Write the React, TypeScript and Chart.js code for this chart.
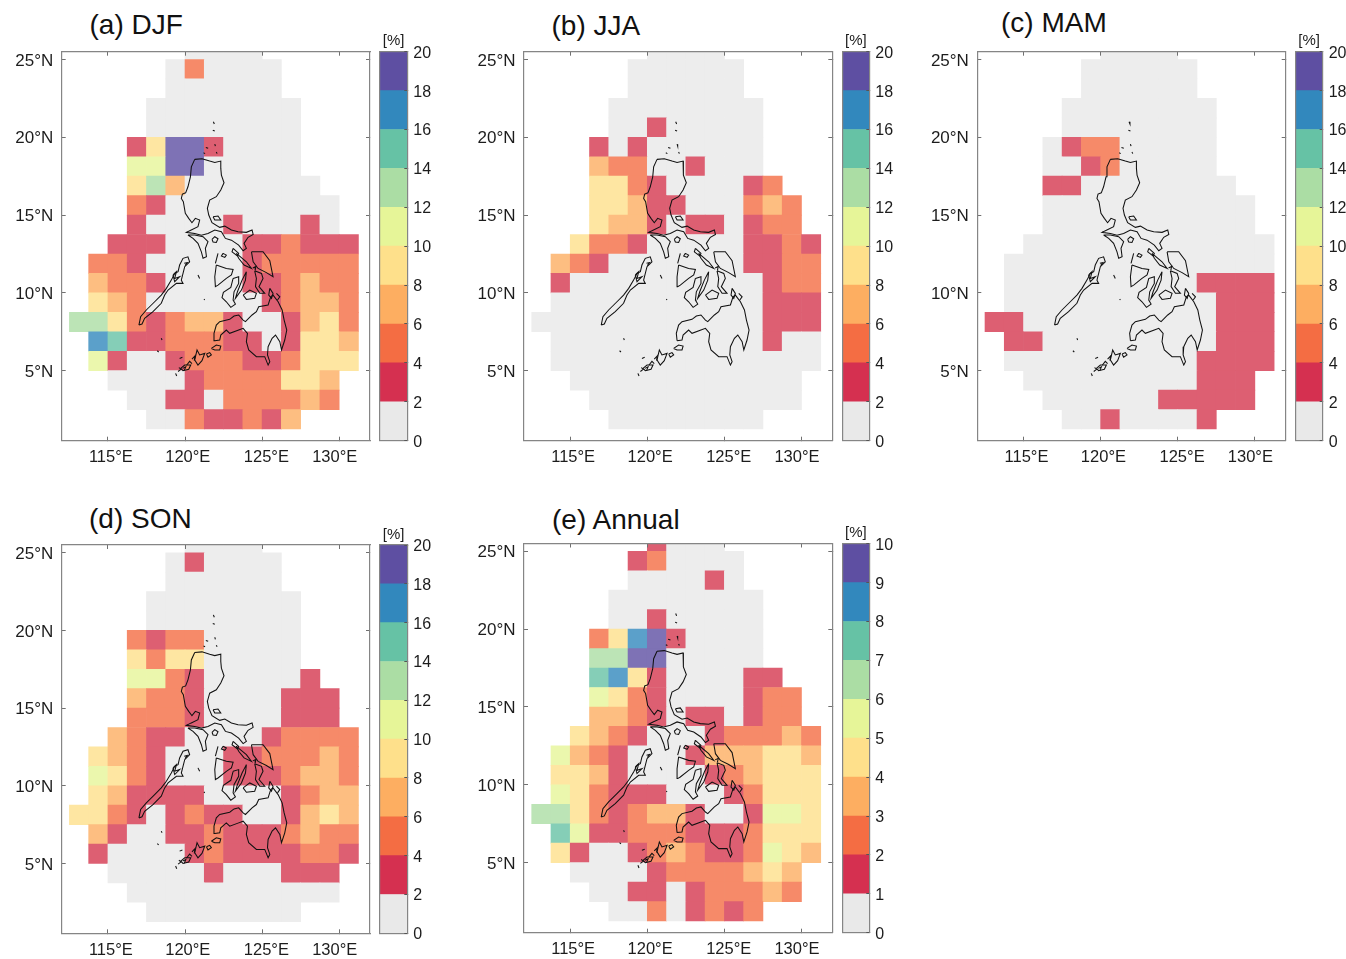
import React, { useEffect, useRef } from "react";
import { Chart, registerables } from "chart.js";

Chart.register(...registerables);

const _ = null;
const FONT = "'Liberation Sans', Arial, sans-serif";

// lower-left edges of the 1.25 degree grid
const LON_EDGES = [112.5, 113.75, 115, 116.25, 117.5, 118.75, 120, 121.25, 122.5, 123.75, 125, 126.25, 127.5, 128.75, 130];
const LAT_EDGES = [25, 23.75, 22.5, 21.25, 20, 18.75, 17.5, 16.25, 15, 13.75, 12.5, 11.25, 10, 8.75, 7.5, 6.25, 5, 3.75, 2.5, 1.25];
const CELL_SIZE = 1.25;

const LON_TICKS = [115, 120, 125, 130];
const LON_LABEL_POS = [115.19, 120.18, 125.28, 129.71];
const LAT_TICKS = [5, 10, 15, 20, 25];

const BAR_COLORS = ["#e9e9e9", "#d53050", "#f46d43", "#fdae61", "#fee08b", "#e6f598", "#abdda4", "#66c2a5", "#3288bd", "#5e4fa2"];
const CELL_COLORS = ["#ededed", "#dd5f72", "#f68a69", "#fdbe81", "#fee6a2", "#ebf7ad", "#bce4b6", "#85ceb7", "#5ba0ca", "#7e72b5"];

const DJF = [
  [_, _, _, _, _, _, 1, 1, 1, 1, _, _, _, _, _],
  [_, _, _, _, _, 1, 5, 1, 1, 1, 1, _, _, _, _],
  [_, _, _, _, _, 1, 1, 1, 1, 1, 1, _, _, _, _],
  [_, _, _, _, 1, 1, 1, 1, 1, 1, 1, 1, _, _, _],
  [_, _, _, _, 1, 1, 1, 1, 1, 1, 1, 1, _, _, _],
  [_, _, _, 3, 9, 19, 19, 3, 1, 1, 1, 1, _, _, _],
  [_, _, _, 11, 11, 19, 19, 1, 1, 1, 1, 1, _, _, _],
  [_, _, _, 9, 13, 7, 1, 1, 1, 1, 1, 1, 1, _, _],
  [_, _, _, 5, 3, 1, 1, 1, 1, 1, 1, 1, 1, 1, _],
  [_, _, _, 3, 1, 1, 1, 1, 3, 1, 1, 1, 3, 1, _],
  [_, _, 3, 3, 3, 1, 1, 1, 1, 3, 3, 5, 3, 3, 3],
  [_, 5, 5, 3, 1, 1, 1, 1, 1, 3, 5, 5, 5, 5, 5],
  [_, 7, 5, 5, 3, 1, 1, 1, 1, 3, 3, 5, 7, 5, 5],
  [_, 9, 7, 5, 1, 1, 1, 1, 1, 1, 3, 5, 7, 7, 5],
  [13, 13, 9, 5, 3, 5, 7, 7, 3, 1, 1, 3, 7, 9, 5],
  [_, 17, 15, 3, 3, 5, 5, 5, 3, 3, 1, 3, 9, 9, 7],
  [_, 11, 3, 1, 1, 3, 5, 5, 5, 3, 3, 5, 9, 9, 9],
  [_, _, 1, 1, 1, 1, 3, 5, 5, 5, 5, 9, 9, 7, _],
  [_, _, _, 1, 1, 3, 3, 1, 5, 5, 5, 5, 7, 5, _],
  [_, _, _, _, 1, 1, 5, 3, 3, 5, 3, 7, _, _, _],
];

const JJA = [
  [_, _, _, _, _, _, 1, 1, 1, 1, _, _, _, _, _],
  [_, _, _, _, _, 1, 1, 1, 1, 1, 1, _, _, _, _],
  [_, _, _, _, _, 1, 1, 1, 1, 1, 1, _, _, _, _],
  [_, _, _, _, 1, 1, 1, 1, 1, 1, 1, 1, _, _, _],
  [_, _, _, _, 1, 1, 3, 1, 1, 1, 1, 1, _, _, _],
  [_, _, _, 3, 1, 3, 1, 1, 1, 1, 1, 1, _, _, _],
  [_, _, _, 7, 5, 5, 1, 1, 3, 1, 1, 1, _, _, _],
  [_, _, _, 9, 9, 5, 3, 1, 1, 1, 1, 3, 5, _, _],
  [_, _, _, 9, 9, 7, 3, 3, 1, 1, 1, 5, 7, 5, _],
  [_, _, _, 9, 7, 7, 3, 1, 3, 3, 1, 3, 5, 5, _],
  [_, _, 9, 5, 5, 3, 1, 1, 1, 1, 1, 3, 3, 5, 3],
  [_, 7, 5, 3, 1, 1, 1, 1, 1, 1, 1, 3, 3, 5, 5],
  [_, 3, 1, 1, 1, 1, 1, 1, 1, 1, 1, 1, 3, 5, 5],
  [_, 1, 1, 1, 1, 1, 1, 1, 1, 1, 1, 1, 3, 3, 3],
  [1, 1, 1, 1, 1, 1, 1, 1, 1, 1, 1, 1, 3, 3, 3],
  [_, 1, 1, 1, 1, 1, 1, 1, 1, 1, 1, 1, 3, 1, 1],
  [_, 1, 1, 1, 1, 1, 1, 1, 1, 1, 1, 1, 1, 1, 1],
  [_, _, 1, 1, 1, 1, 1, 1, 1, 1, 1, 1, 1, 1, _],
  [_, _, _, 1, 1, 1, 1, 1, 1, 1, 1, 1, 1, 1, _],
  [_, _, _, _, 1, 1, 1, 1, 1, 1, 1, 1, _, _, _],
];

const MAM = [
  [_, _, _, _, _, _, 1, 1, 1, 1, _, _, _, _, _],
  [_, _, _, _, _, 1, 1, 1, 1, 1, 1, _, _, _, _],
  [_, _, _, _, _, 1, 1, 1, 1, 1, 1, _, _, _, _],
  [_, _, _, _, 1, 1, 1, 1, 1, 1, 1, 1, _, _, _],
  [_, _, _, _, 1, 1, 1, 1, 1, 1, 1, 1, _, _, _],
  [_, _, _, 1, 3, 5, 5, 1, 1, 1, 1, 1, _, _, _],
  [_, _, _, 1, 1, 3, 5, 1, 1, 1, 1, 1, _, _, _],
  [_, _, _, 3, 3, 1, 1, 1, 1, 1, 1, 1, 1, _, _],
  [_, _, _, 1, 1, 1, 1, 1, 1, 1, 1, 1, 1, 1, _],
  [_, _, _, 1, 1, 1, 1, 1, 1, 1, 1, 1, 1, 1, _],
  [_, _, 1, 1, 1, 1, 1, 1, 1, 1, 1, 1, 1, 1, 1],
  [_, 1, 1, 1, 1, 1, 1, 1, 1, 1, 1, 1, 1, 1, 1],
  [_, 1, 1, 1, 1, 1, 1, 1, 1, 1, 1, 3, 3, 3, 3],
  [_, 1, 1, 1, 1, 1, 1, 1, 1, 1, 1, 1, 3, 3, 3],
  [3, 3, 1, 1, 1, 1, 1, 1, 1, 1, 1, 1, 3, 3, 3],
  [_, 3, 3, 1, 1, 1, 1, 1, 1, 1, 1, 1, 3, 3, 3],
  [_, 1, 1, 1, 1, 1, 1, 1, 1, 1, 1, 3, 3, 3, 3],
  [_, _, 1, 1, 1, 1, 1, 1, 1, 1, 1, 3, 3, 3, _],
  [_, _, _, 1, 1, 1, 1, 1, 1, 3, 3, 3, 3, 3, _],
  [_, _, _, _, 1, 1, 3, 1, 1, 1, 1, 3, _, _, _],
];

const SON = [
  [_, _, _, _, _, _, 1, 1, 1, 1, _, _, _, _, _],
  [_, _, _, _, _, 1, 3, 1, 1, 1, 1, _, _, _, _],
  [_, _, _, _, _, 1, 1, 1, 1, 1, 1, _, _, _, _],
  [_, _, _, _, 1, 1, 1, 1, 1, 1, 1, 1, _, _, _],
  [_, _, _, _, 1, 1, 1, 1, 1, 1, 1, 1, _, _, _],
  [_, _, _, 5, 3, 5, 5, 1, 1, 1, 1, 1, _, _, _],
  [_, _, _, 9, 5, 9, 9, 1, 1, 1, 1, 1, _, _, _],
  [_, _, _, 11, 11, 5, 3, 1, 1, 1, 1, 1, 3, _, _],
  [_, _, _, 7, 5, 5, 3, 1, 1, 1, 1, 3, 3, 3, _],
  [_, _, _, 5, 5, 5, 3, 1, 1, 1, 1, 3, 3, 3, _],
  [_, _, 7, 5, 3, 3, 1, 1, 1, 1, 3, 5, 5, 5, 5],
  [_, 9, 7, 5, 3, 1, 1, 1, 3, 3, 5, 5, 5, 7, 5],
  [_, 11, 9, 5, 3, 1, 1, 1, 3, 3, 3, 5, 7, 7, 5],
  [_, 9, 7, 3, 3, 3, 3, 1, 1, 1, 1, 3, 5, 7, 7],
  [9, 9, 5, 3, 1, 3, 5, 3, 3, 1, 1, 3, 7, 9, 7],
  [_, 7, 3, 1, 1, 3, 3, 5, 3, 3, 3, 5, 7, 5, 5],
  [_, 3, 1, 1, 1, 1, 3, 5, 3, 3, 3, 3, 5, 5, 3],
  [_, _, 1, 1, 1, 1, 1, 3, 1, 1, 1, 3, 3, 3, _],
  [_, _, _, 1, 1, 1, 1, 1, 1, 1, 1, 1, 1, 1, _],
  [_, _, _, _, 1, 1, 1, 1, 1, 1, 1, 1, _, _, _],
];

const ANNUAL = [
  [_, _, _, _, _, _, 1.5, 0.5, 0.5, 0.5, _, _, _, _, _],
  [_, _, _, _, _, 1.5, 2.5, 0.5, 0.5, 0.5, 0.5, _, _, _, _],
  [_, _, _, _, _, 0.5, 0.5, 0.5, 0.5, 1.5, 0.5, _, _, _, _],
  [_, _, _, _, 0.5, 0.5, 0.5, 0.5, 0.5, 0.5, 0.5, 0.5, _, _, _],
  [_, _, _, _, 0.5, 0.5, 1.5, 0.5, 0.5, 0.5, 0.5, 0.5, _, _, _],
  [_, _, _, 2.5, 4.5, 8.5, 9.5, 1.5, 0.5, 0.5, 0.5, 0.5, _, _, _],
  [_, _, _, 6.5, 6.5, 9.5, 9.5, 0.5, 0.5, 0.5, 0.5, 0.5, _, _, _],
  [_, _, _, 7.5, 8.5, 4.5, 1.5, 0.5, 0.5, 0.5, 0.5, 1.5, 1.5, _, _],
  [_, _, _, 5.5, 4.5, 2.5, 1.5, 0.5, 0.5, 0.5, 0.5, 1.5, 2.5, 2.5, _],
  [_, _, _, 3.5, 3.5, 2.5, 1.5, 0.5, 1.5, 1.5, 0.5, 1.5, 2.5, 2.5, _],
  [_, _, 4.5, 3.5, 2.5, 1.5, 0.5, 0.5, 0.5, 1.5, 2.5, 2.5, 2.5, 3.5, 2.5],
  [_, 5.5, 3.5, 2.5, 1.5, 0.5, 0.5, 0.5, 1.5, 3.5, 3.5, 3.5, 4.5, 4.5, 3.5],
  [_, 4.5, 4.5, 3.5, 1.5, 0.5, 0.5, 0.5, 0.5, 1.5, 2.5, 3.5, 4.5, 4.5, 4.5],
  [_, 5.5, 4.5, 2.5, 1.5, 1.5, 1.5, 0.5, 0.5, 0.5, 1.5, 2.5, 4.5, 4.5, 4.5],
  [6.5, 6.5, 4.5, 2.5, 1.5, 2.5, 3.5, 3.5, 1.5, 0.5, 0.5, 1.5, 5.5, 5.5, 4.5],
  [_, 7.5, 5.5, 1.5, 1.5, 2.5, 2.5, 2.5, 1.5, 1.5, 1.5, 2.5, 4.5, 4.5, 4.5],
  [_, 4.5, 1.5, 0.5, 0.5, 1.5, 2.5, 3.5, 2.5, 1.5, 1.5, 2.5, 5.5, 4.5, 3.5],
  [_, _, 0.5, 0.5, 0.5, 0.5, 1.5, 2.5, 2.5, 2.5, 2.5, 3.5, 4.5, 3.5, _],
  [_, _, _, 0.5, 0.5, 1.5, 1.5, 0.5, 1.5, 2.5, 2.5, 2.5, 3.5, 2.5, _],
  [_, _, _, _, 0.5, 0.5, 2.5, 0.5, 1.5, 2.5, 1.5, 2.5, _, _, _],
];

// Coastlines as [lon, lat] pairs
const LUZON = [[120.63,18.58],[121.10,18.62],[121.60,18.47],[121.93,18.38],[122.32,18.47],[122.32,18.00],[122.36,17.57],[122.53,17.08],[122.32,16.61],[122.03,16.18],[121.60,15.96],[121.45,15.43],[121.54,15.00],[121.75,14.51],[122.25,14.21],[122.58,14.29],[123.01,14.04],[123.44,13.93],[123.98,13.89],[124.35,14.04],[124.42,13.76],[124.09,13.57],[123.83,13.18],[123.98,12.86],[123.77,12.71],[123.48,13.07],[123.01,13.39],[122.62,13.50],[122.36,13.93],[121.93,14.04],[121.49,13.82],[121.06,13.71],[120.63,13.82],[120.09,13.89],[120.37,14.03],[120.84,14.25],[120.95,14.68],[120.67,14.79],[120.45,14.51],[120.24,14.79],[120.02,15.11],[119.89,15.86],[119.76,16.07],[119.83,16.35],[120.04,16.43],[120.19,16.82],[120.35,17.46],[120.41,18.10]];
const MINDANAO = [[121.93,6.93],[121.88,7.40],[122.03,7.93],[122.25,8.15],[122.90,8.30],[123.18,8.51],[123.48,8.58],[123.77,8.25],[123.92,8.15],[124.35,8.58],[124.63,8.79],[124.78,9.11],[125.39,9.22],[125.56,9.75],[125.71,9.86],[126.04,9.43],[126.30,8.90],[126.43,8.25],[126.60,7.61],[126.47,6.97],[126.26,6.33],[126.15,6.86],[125.87,7.29],[125.65,7.08],[125.39,6.54],[125.35,6.01],[125.50,5.58],[125.39,5.36],[125.17,5.90],[124.63,5.90],[124.13,6.33],[123.98,6.86],[124.05,7.40],[123.77,7.72],[123.48,7.61],[122.90,7.40],[122.68,7.61],[122.32,7.29],[122.25,6.97]];
const PALAWAN = [[117.01,7.93],[117.12,8.47],[117.49,8.90],[118.03,9.43],[118.46,9.86],[118.79,10.29],[119.11,10.82],[119.33,11.25],[119.55,11.36],[119.65,11.79],[119.87,12.22],[120.19,12.32],[120.30,12.00],[119.98,11.68],[119.87,11.25],[119.76,10.82],[119.87,10.61],[119.44,10.61],[118.90,10.18],[118.68,9.86],[118.46,9.33],[117.92,8.79],[117.38,8.36],[117.21,8.00]];
const MINDORO = [[120.19,13.72],[120.52,13.50],[120.84,13.18],[121.06,12.64],[121.17,12.22],[121.39,12.32],[121.32,12.86],[121.49,13.29],[121.17,13.61],[120.63,13.72]];
const MARINDUQUE = [[121.75,13.44],[121.93,13.61],[122.14,13.48],[122.03,13.24],[121.82,13.27]];
const PANAY = [[122.03,11.79],[122.68,11.57],[123.12,11.51],[123.01,11.15],[122.68,10.93],[122.14,10.50],[121.97,10.40],[121.93,11.04]];
const TABLAS = [[122.14,12.54],[121.97,11.90]];
const SIBUYAN = [[122.47,12.54],[122.68,12.43],[122.58,12.28],[122.36,12.37]];
const NEGROS = [[123.12,10.93],[123.48,11.04],[123.48,10.61],[123.18,10.07],[123.12,9.54],[123.27,9.28],[122.97,9.07],[122.68,9.43],[122.40,9.69],[122.49,10.03],[122.97,10.35]];
const CEBU = [[123.98,11.36],[123.92,10.82],[123.66,10.18],[123.27,9.65],[123.40,10.07],[123.70,10.82]];
const BOHOL = [[123.77,9.86],[124.20,10.18],[124.63,9.97],[124.52,9.65],[123.98,9.58]];
const SAMAR = [[124.31,12.64],[125.06,12.64],[125.50,12.07],[125.71,11.04],[125.28,11.30],[124.74,11.57],[124.42,12.00]];
const LEYTE = [[124.52,11.42],[124.96,11.25],[125.06,10.93],[124.80,10.40],[125.17,9.97],[124.85,9.97],[124.57,10.40],[124.63,10.93]];
const MASBATE = [[123.33,12.54],[123.98,12.00],[124.31,11.57],[123.83,11.79],[123.48,12.22]];
const BURIAS = [[123.12,12.86],[123.48,12.54],[123.40,12.37],[123.05,12.64]];
const POLILLO = [[121.82,14.89],[122.14,14.94],[122.32,14.68],[121.93,14.68]];
const DINAGAT = [[125.50,10.29],[125.71,9.97],[125.61,9.65],[125.43,9.86]];
const SIARGAO = [[125.93,9.97],[126.15,9.75],[126.00,9.54]];
const EL_NIDO = [[119.22,11.15],[119.44,11.36],[119.33,10.93],[119.65,11.04],[119.33,10.72]];
const BASILAN = [[121.71,6.43],[122.03,6.65],[122.32,6.58],[122.25,6.33],[121.93,6.33]];
const JOLO = [[121.39,6.07],[121.60,6.16],[121.71,6.01],[121.49,5.86]];
const SULU_CHAIN = [[120.63,5.69],[120.78,6.33],[120.95,6.01],[121.28,6.11],[121.10,5.64],[120.84,5.36]];
const TAWI_TAWI = [[119.72,5.15],[119.98,5.36],[120.37,5.36],[120.24,5.09],[119.87,5.00]];
const SMALL_ISLETS = [
  [[119.39,4.83],[119.46,4.66]], [[119.65,5.79],[119.83,5.86]],
  [[118.46,7.08],[118.51,6.97]], [[118.20,6.28],[118.29,6.20]],
  [[120.84,11.15],[120.95,10.93]], [[121.23,9.60],[121.28,9.54]],
  [[121.84,21.00],[121.90,20.85]], [[121.80,20.45],[121.93,20.40]],
  [[121.35,19.35],[121.50,19.30]], [[121.93,19.56],[121.97,19.43]],
  [[122.03,19.05],[122.08,18.95]], [[121.20,19.00],[121.30,18.95]],
  [[119.95,11.90],[120.15,11.95],[120.00,11.75]],
  [[124.40,11.60],[124.60,11.70],[124.55,11.45]],
  [[120.10,5.35],[120.30,5.60],[120.45,5.45]],
  [[120.45,5.75],[120.65,5.95],[120.60,5.65]],
  [[119.55,4.95],[119.75,5.10],[119.60,5.20]],
  [[119.85,5.15],[120.05,5.25],[119.95,5.00]],
];
const COAST = [LUZON, MINDANAO, PALAWAN, MINDORO, MARINDUQUE, PANAY, TABLAS, SIBUYAN, NEGROS, CEBU, BOHOL, SAMAR, LEYTE, MASBATE, BURIAS, POLILLO, DINAGAT, SIARGAO, EL_NIDO, BASILAN, JOLO, SULU_CHAIN, TAWI_TAWI, ...SMALL_ISLETS];

const BAR_TICKS_20 = [0, 2, 4, 6, 8, 10, 12, 14, 16, 18, 20];
const BAR_TICKS_10 = [0, 1, 2, 3, 4, 5, 6, 7, 8, 9, 10];

const FRAME = "#858585";
const TICK = "#707070";
const INK = "#1c1c1c";
const cellColor = (v: number, max: number) => CELL_COLORS[Math.min(9, Math.floor(v / (max / 10)))];

function fixedSize(prop: "width" | "height", size: number) {
  return (axis: any) => {
    axis[prop] = size;
  };
}

function setTicks(values: number[]) {
  return (axis: any) => {
    axis.ticks = values.map((value) => ({ value }));
  };
}

function MapChart({ left, top, right, bottom, grid, max }: any) {
  const ref = useRef<HTMLCanvasElement>(null);
  const canvasLeft = Math.floor(left) - 56;
  const canvasTop = Math.floor(top) - 24;
  const canvasRight = Math.ceil(right) + 6;
  const canvasBottom = Math.ceil(bottom) + 32;
  useEffect(() => {
    const cells: any[] = [];
    const colors: string[] = [];
    grid.forEach((row: (number | null)[], r: number) => {
      row.forEach((v, c) => {
        if (v === null) return;
        cells.push({ x: LON_EDGES[c] + CELL_SIZE / 2, y: [LAT_EDGES[r], LAT_EDGES[r] + CELL_SIZE] });
        colors.push(cellColor(v, max));
      });
    });
    const hidden = { display: false };
    const gridOpts = { drawOnChartArea: false, tickLength: -4, tickColor: TICK, tickWidth: 1, z: 1 };
    const border = { display: true, color: FRAME, width: 1.2, z: 1 };
    const chart = new Chart(ref.current!, {
      type: "bar",
      data: {
        datasets: [
          { type: "bar", data: cells, backgroundColor: colors, barPercentage: 1, categoryPercentage: 1, borderWidth: 0, order: 2 },
          ...COAST.map((pts) => {
            const line = pts.map(([x, y]) => ({ x, y }));
            if (pts.length > 3) line.push({ x: pts[0][0], y: pts[0][1] });
            return { type: "scatter", data: line, showLine: true, pointRadius: 0, borderColor: "#111", borderWidth: 1.05, fill: false, tension: 0, order: 1 };
          }),
        ] as any,
      },
      options: {
        animation: false,
        responsive: false,
        events: [],
        layout: { padding: 0 },
        plugins: { legend: hidden, tooltip: { enabled: false }, title: hidden },
        scales: {
          xLabels: {
            type: "linear", axis: "x", position: "bottom", min: 112, max: 132, offset: false, weight: 1,
            afterBuildTicks: setTicks(LON_LABEL_POS), afterFit: fixedSize("height", canvasBottom - bottom),
            grid: { drawOnChartArea: false, drawTicks: false, offset: false }, border: { display: false },
            ticks: { color: INK, font: { family: FONT, size: 16.5 }, padding: 7, maxRotation: 0, autoSkip: false, callback: (v: any) => `${Math.round(v / 5) * 5}°E` },
          },
          x: {
            type: "linear", position: "bottom", min: 112, max: 132, offset: false, weight: 0,
            afterBuildTicks: setTicks(LON_TICKS), afterFit: fixedSize("height", 0),
            grid: { ...gridOpts, offset: false }, border, ticks: { display: false },
          },
          x2: {
            type: "linear", axis: "x", position: "top", min: 112, max: 132, offset: false,
            afterBuildTicks: setTicks(LON_TICKS), afterFit: fixedSize("height", top - canvasTop),
            grid: { ...gridOpts, offset: false }, border, ticks: { display: false },
          },
          y: {
            type: "linear", position: "left", min: 0.5, max: 25.5,
            afterBuildTicks: setTicks(LAT_TICKS), afterFit: fixedSize("width", left - canvasLeft),
            grid: gridOpts, border,
            ticks: { color: INK, font: { family: FONT, size: 17 }, padding: 12.4, labelOffset: 1.5, autoSkip: false, callback: (v: any) => `${v}°N` },
          },
          y2: {
            type: "linear", axis: "y", position: "right", min: 0.5, max: 25.5,
            afterBuildTicks: setTicks(LAT_TICKS), afterFit: fixedSize("width", canvasRight - right),
            grid: gridOpts, border, ticks: { display: false },
          },
        } as any,
      } as any,
    });
    return () => chart.destroy();
  }, []);
  return (
    <canvas
      ref={ref}
      width={canvasRight - canvasLeft}
      height={canvasBottom - canvasTop}
      style={{ position: "absolute", left: canvasLeft, top: canvasTop, width: canvasRight - canvasLeft, height: canvasBottom - canvasTop }}
    />
  );
}

function ColorBar({ left, top, right, bottom, ticks }: any) {
  const ref = useRef<HTMLCanvasElement>(null);
  const canvasLeft = Math.floor(left) - 6;
  const canvasTop = Math.floor(top) - 24;
  const canvasRight = Math.ceil(right) + 36;
  const canvasBottom = Math.ceil(bottom) + 24;
  useEffect(() => {
    const max = ticks[ticks.length - 1];
    const titleSize = 15;
    const titleH = titleSize * 1.2 + 4.4 + 1;
    const noTicks = { drawOnChartArea: false, drawTicks: false };
    const border = { display: true, color: FRAME, width: 1.2, z: 1 };
    const chart = new Chart(ref.current!, {
      type: "bar",
      data: {
        labels: [""],
        datasets: BAR_COLORS.map((color, i) => ({
          data: [[ticks[i], ticks[i + 1]]],
          backgroundColor: color,
          grouped: false,
          barPercentage: 1,
          categoryPercentage: 1,
          borderWidth: 0,
        })),
      } as any,
      options: {
        animation: false,
        responsive: false,
        events: [],
        layout: { padding: 0 },
        plugins: {
          legend: { display: false },
          tooltip: { enabled: false },
          title: { display: true, text: "[%]", fullSize: false, color: INK, font: { family: FONT, size: titleSize, weight: "normal" }, padding: { top: 4.4, bottom: 1 } },
        },
        scales: {
          x: { type: "category", position: "bottom", afterFit: fixedSize("height", canvasBottom - bottom), grid: noTicks, border, ticks: { display: false } },
          x2: { type: "category", axis: "x", position: "top", labels: [""], afterFit: fixedSize("height", Math.max(0, top - canvasTop - titleH)), grid: noTicks, border, ticks: { display: false } },
          y: {
            type: "linear", position: "right", min: 0, max,
            afterBuildTicks: setTicks(ticks), afterFit: fixedSize("width", canvasRight - right),
            grid: { drawOnChartArea: false, tickLength: -3, tickColor: "#555", tickWidth: 1, z: 1 }, border,
            ticks: { color: INK, font: { family: FONT, size: 16 }, padding: 9, labelOffset: 1.5, autoSkip: false },
          },
          y2: { type: "linear", axis: "y", position: "left", min: 0, max, afterFit: fixedSize("width", left - canvasLeft), grid: noTicks, border, ticks: { display: false } },
        } as any,
      } as any,
    });
    return () => chart.destroy();
  }, []);
  return (
    <canvas
      ref={ref}
      width={canvasRight - canvasLeft}
      height={canvasBottom - canvasTop}
      style={{ position: "absolute", left: canvasLeft, top: canvasTop, width: canvasRight - canvasLeft, height: canvasBottom - canvasTop }}
    />
  );
}

const PANELS = [
  { title: "(a) DJF", titleX: 89.5, baseline: 33.5, left: 61.7, right: 370, top: 51.7, bottom: 440.7, barL: 380, barR: 407.3, barTop: 51.7, barBottom: 440.7, grid: DJF, max: 20, ticks: BAR_TICKS_20 },
  { title: "(b) JJA", titleX: 551.5, baseline: 35, left: 524, right: 832.3, top: 51.7, bottom: 440.7, barL: 842.3, barR: 869.3, barTop: 51.7, barBottom: 440.7, grid: JJA, max: 20, ticks: BAR_TICKS_20 },
  { title: "(c) MAM", titleX: 1001, baseline: 32, left: 977.3, right: 1285.7, top: 51.7, bottom: 440.7, barL: 1295.7, barR: 1322.7, barTop: 51.7, barBottom: 440.7, grid: MAM, max: 20, ticks: BAR_TICKS_20 },
  { title: "(d) SON", titleX: 89, baseline: 528, left: 61.7, right: 370, top: 545, bottom: 933.3, barL: 380, barR: 407.3, barTop: 545, barBottom: 933.3, grid: SON, max: 20, ticks: BAR_TICKS_20 },
  { title: "(e) Annual", titleX: 552, baseline: 528.5, left: 524, right: 832.3, top: 543.5, bottom: 932.7, barL: 842.3, barR: 869.3, barTop: 543.7, barBottom: 932.7, grid: ANNUAL, max: 10, ticks: BAR_TICKS_10 },
];

export default function App() {
  return (
    <div style={{ position: "absolute", left: 0, top: 0, width: 1346, height: 959, overflow: "hidden", background: "#fff" }}>
      {PANELS.map((p) => (
        <React.Fragment key={p.title}>
          <div style={{ position: "absolute", left: p.titleX, top: p.baseline - 23, fontFamily: FONT, fontSize: 28, lineHeight: "27px", color: "#111", whiteSpace: "nowrap" }}>
            {p.title}
          </div>
          <MapChart left={p.left} right={p.right} top={p.top} bottom={p.bottom} grid={p.grid} max={p.max} />
          <ColorBar left={p.barL} right={p.barR} top={p.barTop} bottom={p.barBottom} ticks={p.ticks} />
        </React.Fragment>
      ))}
    </div>
  );
}
